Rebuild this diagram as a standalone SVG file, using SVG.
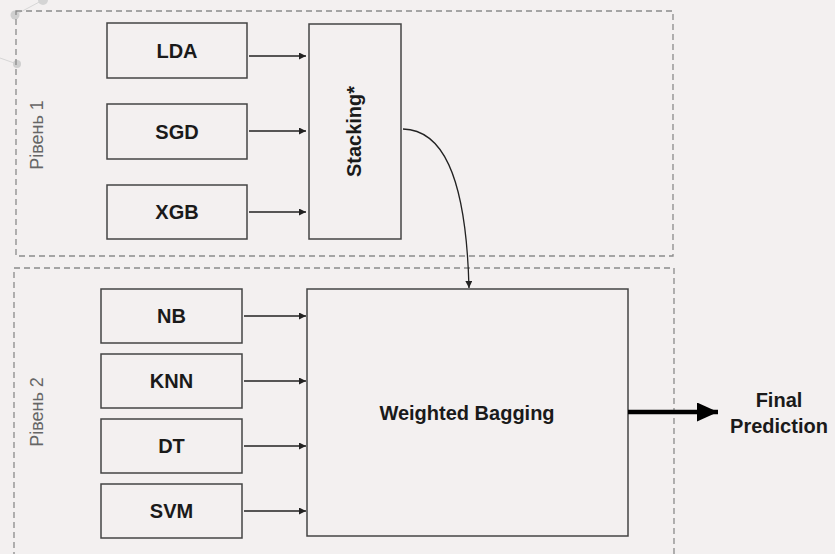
<svg xmlns="http://www.w3.org/2000/svg" width="835" height="554" viewBox="0 0 835 554">
  <defs>
    <marker id="tip" viewBox="0 0 10 10" refX="10" refY="5" markerWidth="7" markerHeight="7" markerUnits="userSpaceOnUse" orient="auto">
      <path d="M0,0 L10,5 L0,10 z" fill="#222"/>
    </marker>
    <marker id="bigtip" viewBox="0 0 10 10" refX="10" refY="5" markerWidth="21" markerHeight="19" markerUnits="userSpaceOnUse" orient="auto" preserveAspectRatio="none">
      <path d="M0,0 L10,5 L0,10 z" fill="#000"/>
    </marker>
  </defs>
  <style>
    .box { fill: none; stroke: #444; stroke-width: 1.5; }
    .zone { fill: none; stroke: #8a8a8a; stroke-width: 1.3; stroke-dasharray: 6 4; }
    .lbl { font-family: "Liberation Sans", Arial, sans-serif; font-weight: bold; font-size: 20px; fill: #1a1a1a; text-anchor: middle; }
    .lvl { font-family: "Liberation Sans", Arial, sans-serif; font-size: 18px; fill: #666; text-anchor: middle; }
    .edge { fill: none; stroke: #222; stroke-width: 1.3; }
    .deco { stroke: #d6d6d6; stroke-width: 1; fill: none; }
  </style>

  <!-- page background -->
  <rect x="0" y="0" width="835" height="554" fill="#f3f0f0"/>

  <!-- faint template ornaments in the corner -->
  <g id="ornament">
    <path class="deco" d="M0,58 L17,64 M15,15 L43,0"/>
    <circle cx="15" cy="15" r="4.5" fill="#cfcfcf"/>
    <circle cx="17" cy="64" r="4" fill="#cfcfcf"/>
    <circle cx="43" cy="0" r="5" fill="#d4d4d4"/>
  </g>

  <!-- level frames -->
  <g id="level1">
    <rect class="zone" x="16" y="11" width="657" height="245"/>
    <text class="lvl" transform="translate(43,135) rotate(-90)">Рівень 1</text>
  </g>
  <g id="level2">
    <rect class="zone" x="14" y="268" width="660" height="300"/>
    <text class="lvl" transform="translate(43,412) rotate(-90)">Рівень 2</text>
  </g>

  <!-- level 1 models -->
  <g id="lda">
    <rect class="box" x="107" y="23" width="140" height="55"/>
    <text class="lbl" x="177" y="57.5">LDA</text>
  </g>
  <g id="sgd">
    <rect class="box" x="107" y="104" width="140" height="55"/>
    <text class="lbl" x="177" y="138.5">SGD</text>
  </g>
  <g id="xgb">
    <rect class="box" x="107" y="185" width="140" height="54"/>
    <text class="lbl" x="177" y="219">XGB</text>
  </g>
  <g id="stacking">
    <rect class="box" x="309" y="24" width="92" height="215"/>
    <text class="lbl" transform="translate(361,131.5) rotate(-90)">Stacking*</text>
  </g>

  <!-- level 2 models -->
  <g id="nb">
    <rect class="box" x="101" y="289" width="141" height="54"/>
    <text class="lbl" x="171.5" y="323">NB</text>
  </g>
  <g id="knn">
    <rect class="box" x="101" y="354" width="141" height="54"/>
    <text class="lbl" x="171.5" y="388">KNN</text>
  </g>
  <g id="dt">
    <rect class="box" x="101" y="419" width="141" height="54"/>
    <text class="lbl" x="171.5" y="453">DT</text>
  </g>
  <g id="svm">
    <rect class="box" x="101" y="484" width="141" height="54"/>
    <text class="lbl" x="171.5" y="518">SVM</text>
  </g>
  <g id="bagging">
    <rect class="box" x="307" y="289" width="321" height="247"/>
    <text class="lbl" x="467" y="420">Weighted Bagging</text>
  </g>

  <g id="output">
    <text class="lbl" x="779" y="407">Final</text>
    <text class="lbl" x="779" y="433">Prediction</text>
  </g>

  <!-- connectors -->
  <g id="connectors">
    <path class="edge" d="M249,56 H306" marker-end="url(#tip)"/>
    <path class="edge" d="M249,131 H306" marker-end="url(#tip)"/>
    <path class="edge" d="M249,212 H306" marker-end="url(#tip)"/>
    <path class="edge" d="M403,129 C440,130 466,170 469,288" marker-end="url(#tip)"/>
    <path class="edge" d="M244,316 H306" marker-end="url(#tip)"/>
    <path class="edge" d="M244,381 H306" marker-end="url(#tip)"/>
    <path class="edge" d="M244,446 H306" marker-end="url(#tip)"/>
    <path class="edge" d="M244,511 H306" marker-end="url(#tip)"/>
    <path d="M628,412 H718" fill="none" stroke="#000" stroke-width="4.5" marker-end="url(#bigtip)"/>
  </g>
</svg>
